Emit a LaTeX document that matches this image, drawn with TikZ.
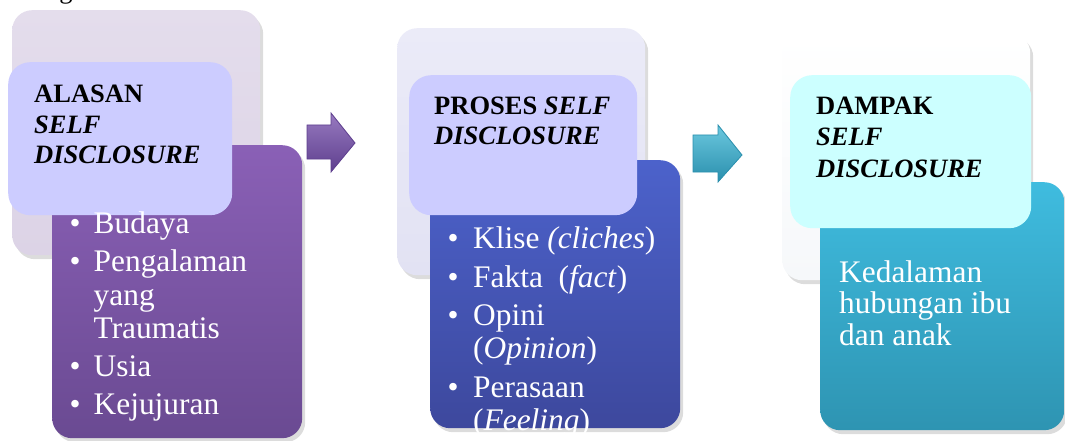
\documentclass[tikz,border=0pt]{standalone}
\usepackage{fontspec}
\setmainfont{Liberation Serif}
\usetikzlibrary{shadows}
\newcommand\blt{\makebox[24pt][l]{\textbullet}}
\newcommand\bltb{\makebox[25.5pt][l]{\textbullet}}
\definecolor{backA}{HTML}{DCD3E6}
\definecolor{backAt}{HTML}{E4DDEC}
\definecolor{backB}{HTML}{E2E2F3}
\definecolor{backBt}{HTML}{EBEBF8}
\definecolor{backC}{HTML}{F6F8FA}
\definecolor{headAB}{HTML}{CCCCFF}
\definecolor{headC}{HTML}{CCFFFF}
\definecolor{purT}{HTML}{8A60B6}
\definecolor{purB}{HTML}{6A4A92}
\definecolor{bluT}{HTML}{4C62CB}
\definecolor{bluB}{HTML}{3D489D}
\definecolor{cyaT}{HTML}{3FBCDF}
\definecolor{cyaB}{HTML}{2E94B2}
\definecolor{arrA}{HTML}{7E58B0}
\definecolor{arrAd}{HTML}{5E3F8E}
\definecolor{arrB}{HTML}{3AB6D4}
\definecolor{arrBd}{HTML}{2A8FAD}
\tikzset{
  boxbase/.style={rounded corners=20pt, inner sep=0pt, anchor=north west,
    drop shadow={opacity=0.28, shadow xshift=3pt, shadow yshift=-4pt}},
  backbox/.style={boxbase},
  frontbox/.style={boxbase},
  headbox/.style={rounded corners=22pt, inner sep=0pt, anchor=north west},
  headtxt/.style={font=\fontsize{26.5}{30}\selectfont\bfseries, anchor=base west, inner sep=0pt, text=black},
  bodytxt/.style={font=\fontsize{31.4}{33}\selectfont, anchor=base west, inner sep=0pt, text=white},
  arrowshape/.style={draw=#1, line width=0.8pt, line join=miter},
}
\begin{document}
\begin{tikzpicture}[x=1pt,y=-1pt]
\useasboundingbox (0,0) rectangle (1065,441);
% fragment of text above
\node[font=\fontsize{26.5}{30}\selectfont, anchor=base, inner sep=0pt] (frag) at (66,-1) {g};
% ---------- group 1
\node[backbox, top color=backAt, bottom color=backA, minimum width=248pt, minimum height=245pt] (b1) at (12,10) {};
\node[frontbox, top color=purT, bottom color=purB, minimum width=250pt, minimum height=293pt] (f1) at (52,145) {};
\node[headbox, fill=headAB, minimum width=224pt, minimum height=153pt] (h1) at (8,62) {};
\node[headtxt] (h1a) at (34,103) {ALASAN};
\node[headtxt] (h1b) at (34,134) {\itshape SELF};
\node[headtxt] (h1c) at (34,163) {\itshape DISCLOSURE};
\node[bodytxt] (t1a) at (69.5,233) {\blt Budaya};
\node[bodytxt] (t1b) at (69.5,271) {\blt Pengalaman};
\node[bodytxt] (t1c) at (93.5,305) {yang};
\node[bodytxt] (t1d) at (93.5,338) {Traumatis};
\node[bodytxt] (t1e) at (69.5,376) {\blt Usia};
\node[bodytxt] (t1f) at (69.5,414) {\blt Kejujuran};
% arrow 1
\path[arrowshape=arrAd, top color=arrA!80!white, bottom color=arrAd]
  (307,125) -- (331,125) -- (331,113) -- (355,143) -- (331,172) -- (331,159) -- (307,159) -- cycle;
\coordinate (a1) at (331,142);
% ---------- group 2
\node[backbox, top color=backBt, bottom color=backB, minimum width=248pt, minimum height=247pt] (b2) at (397,28) {};
\node[frontbox, top color=bluT, bottom color=bluB, minimum width=250pt, minimum height=268pt] (f2) at (430,160) {};
\node[headbox, fill=headAB, minimum width=228pt, minimum height=140pt] (h2) at (409,75) {};
\node[headtxt] (h2a) at (434,115) {PROSES \textit{SELF}};
\node[headtxt] (h2b) at (434,145) {\itshape DISCLOSURE};
\node[bodytxt] (t2a) at (447.5,248) {\bltb Klise \textit{(cliches})};
\node[bodytxt] (t2b) at (447.5,287) {\bltb Fakta\ \ (\textit{fact})};
\node[bodytxt] (t2c) at (447.5,325) {\bltb Opini};
\node[bodytxt] (t2d) at (473,358) {(\textit{Opinion})};
\node[bodytxt] (t2e) at (447.5,397) {\bltb Perasaan};
\node[bodytxt] (t2f) at (473,430) {(\textit{Feeling})};
% arrow 2
\path[arrowshape=arrBd, top color=arrB!75!white, bottom color=arrBd]
  (693,135) -- (718,135) -- (718,125) -- (742,155) -- (718,182) -- (718,172) -- (693,172) -- cycle;
\coordinate (a2) at (718,154);
% ---------- group 3
\node[backbox, top color=white, bottom color=backC, minimum width=248pt, minimum height=247pt] (b3) at (782,33) {};
\node[frontbox, top color=cyaT, bottom color=cyaB, minimum width=244pt, minimum height=248pt] (f3) at (820,182) {};
\node[headbox, fill=headC, minimum width=241pt, minimum height=153pt] (h3) at (790,75) {};
\node[headtxt] (h3a) at (816,115) {DAMPAK};
\node[headtxt] (h3b) at (816,146) {\itshape SELF};
\node[headtxt] (h3c) at (816,177) {\itshape DISCLOSURE};
\node[bodytxt] (t3a) at (839,282) {Kedalaman};
\node[bodytxt] (t3b) at (839,313.5) {hubungan ibu};
\node[bodytxt] (t3c) at (839,345) {dan anak};
\end{tikzpicture}
\end{document}
